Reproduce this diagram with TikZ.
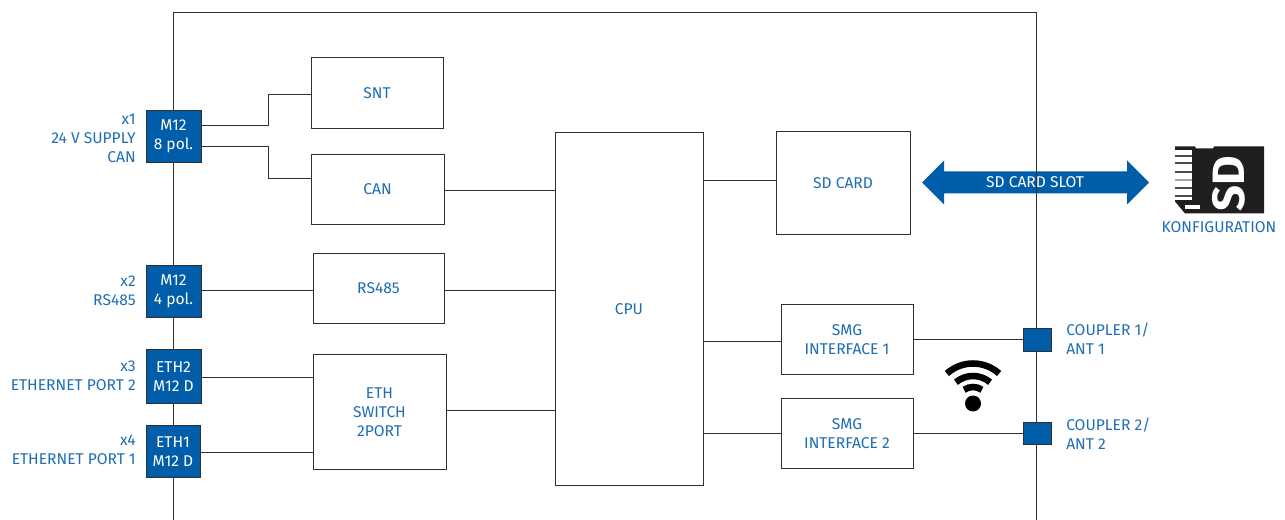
\documentclass[tikz,border=0pt]{standalone}
\usepackage{fontspec}
\setmainfont{Fira Sans}
\definecolor{mblue}{HTML}{005DA9}
\definecolor{lblue}{HTML}{1F6DB5}
\definecolor{ln}{HTML}{303030}
\tikzset{
 x=0.75pt,y=-0.75pt,
 wire/.style={draw=ln,line width=0.75pt},
 box/.style={draw=ln,line width=0.75pt,fill=white,text=lblue,align=center,inner sep=0pt,font=\fontsize{11.7}{14.3}\selectfont},
 port/.style={draw=ln,line width=0.75pt,fill=mblue,text=white,align=center,inner sep=0pt,font=\fontsize{11.7}{14.3}\selectfont},
 lab/.style={text=lblue,inner sep=0pt,font=\fontsize{11.7}{14.3}\selectfont},
 wave/.style={draw=black,line width=4.9pt},
}
\newcommand{\bx}[7][box]{% style, name, x1, y1, x2, y2, text
 \node[#1,minimum width={(#5-#3)*0.75pt},minimum height={(#6-#4)*0.75pt}] (#2) at ({(#3+#5)/2},{(#4+#6)/2}) {#7};}
\begin{document}
\begin{tikzpicture}
\useasboundingbox (0,-0.5) rectangle (1285,519.5);
\coordinate (fa) at (173,520);
\coordinate (fb) at (173,12);
\coordinate (fc) at (1036,12);
\coordinate (fd) at (1036,520);
\draw[wire] (fa) -- (fb) -- (fc) -- (fd);
\bx{snt}{311}{57}{443}{128}{SNT}
\bx{can}{311}{154}{444}{224}{CAN}
\bx{rs}{313}{253}{444}{323}{RS485}
\bx{sw}{313}{354}{446}{469}{ETH\\SWITCH\\2PORT}
\bx{cpu}{555}{132}{703}{485}{CPU}
\bx{sd}{776}{131}{910}{234}{SD CARD}
\bx{sa}{781}{304}{913}{374}{SMG\\INTERFACE 1}
\bx{sb}{781}{398}{913}{468}{SMG\\INTERFACE 2}
\bx[port]{pa}{146}{110}{201}{162}{M12\\8 pol.}
\bx[port]{pb}{146}{265}{201}{317}{M12\\4 pol.}
\bx[port]{pc}{146}{349}{201}{403}{ETH2\\M12 D}
\bx[port]{pd}{146}{425}{200}{477}{ETH1\\M12 D}
\bx[port]{ca}{1023}{328}{1051}{351}{}
\bx[port]{cb}{1023}{422}{1051}{444}{}
\node[lab,anchor=east,align=right] (la) at (136,138) {x1\\24 V SUPPLY\\CAN};
\node[lab,anchor=east,align=right] (lb) at (136,290) {x2\\RS485};
\node[lab,anchor=east,align=right] (lc) at (136,375) {x3\\ETHERNET PORT 2};
\node[lab,anchor=east,align=right] (ld) at (136,449) {x4\\ETHERNET PORT 1};
\node[lab,anchor=west,align=left] (le) at (1066,338) {COUPLER 1/\\ANT 1};
\node[lab,anchor=west,align=left] (lf) at (1066,433) {COUPLER 2/\\ANT 2};
\draw[wire] (pa.east |- 0,125) -- (268,125) |- (snt.west |- 0,94);
\draw[wire] (pa.east |- 0,146) -- (268,146) |- (can.west |- 0,178);
\draw[wire] (pb.east |- 0,290) -- (rs.west |- 0,290);
\draw[wire] (pc.east |- 0,377) -- (sw.west |- 0,377);
\draw[wire] (pd.east |- 0,452) -- (sw.west |- 0,452);
\draw[wire] (can.east |- 0,190) -- (cpu.west |- 0,190);
\draw[wire] (rs.east |- 0,290) -- (cpu.west |- 0,290);
\draw[wire] (sw.east |- 0,410) -- (cpu.west |- 0,410);
\draw[wire] (cpu.east |- 0,180) -- (sd.west |- 0,180);
\draw[wire] (cpu.east |- 0,341) -- (sa.west |- 0,341);
\draw[wire] (cpu.east |- 0,433) -- (sb.west |- 0,433);
\draw[wire] (sa.east |- 0,339) -- (ca.west |- 0,339);
\draw[wire] (sb.east |- 0,433) -- (cb.west);
% double arrow
\fill[mblue] (922,182) -- (944,160) -- (944,171) -- (1127,171) -- (1127,160) -- (1149,182) -- (1127,204) -- (1127,193) -- (944,193) -- (944,204) -- cycle;
\draw[wire] (1036,171) -- (1036,193);
\node[text=white,inner sep=0pt,font=\fontsize{11.7}{14}\selectfont] (slot) at (1035,182) {SD CARD SLOT};
% SD icon
\fill[black!88] (1175,146) -- (1195,146) -- (1196,148) -- (1213,148) -- (1214,146) -- (1264,146) -- (1264,213) -- (1185,213) -- (1175,201) -- cycle;
\fill[white] (1175,150) rectangle (1192,200);
\fill[white] (1185,205) rectangle (1200,209);
\foreach \yy in {155,162,171,187,195}{\fill[black!70] (1175,\yy) rectangle (1192,{\yy+1.5});}
\fill[black!35] (1175,179) rectangle (1192,180.5);
\node[rotate=90,text=white,inner sep=0pt,font=\fontsize{34}{34}\bfseries\selectfont] (sdt) at (1229,183) {SD};
\node[lab] (kf) at (1219,227) {KONFIGURATION};
% wifi
\fill[black] (973,403) circle (6pt);
\draw[wave] (973,402) ++(-132:39) arc[start angle=132,end angle=48,radius=39*0.75pt];
\draw[wave] (973,402) ++(-130:26.5) arc[start angle=130,end angle=50,radius=26.5*0.75pt];
\draw[wave] (973,402) ++(-125:15.5) arc[start angle=125,end angle=55,radius=15.5*0.75pt];
\end{tikzpicture}
\end{document}
